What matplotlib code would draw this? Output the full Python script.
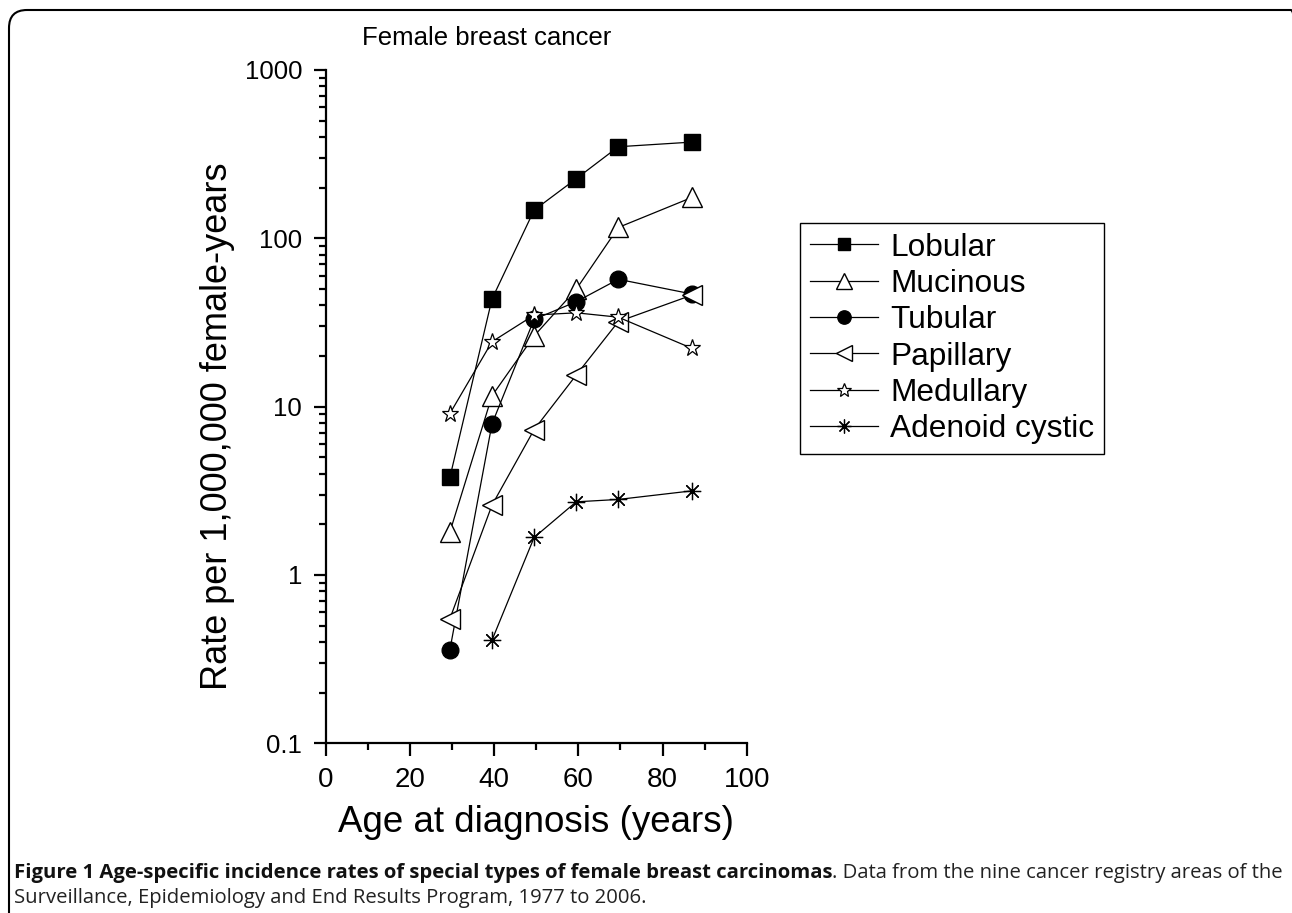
import numpy as np
import matplotlib
matplotlib.use("Agg")
from matplotlib import pyplot as plt
from matplotlib.patches import FancyBboxPatch
from matplotlib.transforms import IdentityTransform
from matplotlib.ticker import FixedLocator, FuncFormatter, LogLocator, NullFormatter

plt.rcParams['font.family'] = ['Liberation Sans', 'DejaVu Sans']

# age at diagnosis (group midpoints)
ages = [29.5, 39.5, 49.5, 59.5, 69.5, 87]
ages_adenoid = [39.5, 49.5, 59.5, 69.5, 87]

lobular = [3.8, 43.6, 147, 226, 350, 373]
mucinous = [1.8, 11.6, 26.3, 49.8, 116, 175]
tubular = [0.36, 7.9, 33.0, 42.0, 57.1, 46.7]
papillary = [0.55, 2.6, 7.3, 15.4, 32.0, 46.0]
medullary = [9.1, 24.3, 35.0, 36.1, 34.0, 22.2]
adenoid = [0.41, 1.67, 2.72, 2.81, 3.16]

W, H = 1292, 913
fig = plt.figure(figsize=(W / 100, H / 100), dpi=100)
ax = fig.add_axes([325.7 / W, 1 - 743.3 / H, (746.7 - 325.7) / W, (743.3 - 70) / H])

lw = 0.9
ax.plot(ages, lobular, '-', color='black', lw=lw, marker='s', ms=11.5,
        mfc='black', mec='black', label='Lobular', zorder=3)
ax.plot(ages, mucinous, '-', color='black', lw=lw, marker='^', ms=14,
        mfc='white', mec='black', mew=1.0, label='Mucinous', zorder=3)
ax.plot(ages, tubular, '-', color='black', lw=lw, marker='o', ms=12,
        mfc='black', mec='black', label='Tubular', zorder=3)
ax.plot(ages, papillary, '-', color='black', lw=lw, marker='<', ms=14,
        mfc='white', mec='black', mew=1.0, label='Papillary', zorder=3)
ax.plot(ages, medullary, '-', color='black', lw=lw, marker='*', ms=12.5,
        mfc='white', mec='black', mew=0.9, label='Medullary', zorder=3)
ax.plot(ages_adenoid, adenoid, '-', color='black', lw=lw, marker=(8, 2, 0), ms=12.5,
        mfc='black', mec='black', mew=0.9, label='Adenoid cystic', zorder=3)

ax.set_yscale('log')
ax.set_ylim(0.1, 1000)
ax.set_xlim(0, 100)

for s in ['top', 'right']:
    ax.spines[s].set_visible(False)
for s in ['left', 'bottom']:
    ax.spines[s].set_linewidth(1.6)

ax.xaxis.set_major_locator(FixedLocator([0, 20, 40, 60, 80, 100]))
ax.xaxis.set_minor_locator(FixedLocator([10, 30, 50, 70, 90]))
ax.yaxis.set_major_locator(LogLocator(base=10, numticks=10))
ax.yaxis.set_minor_locator(LogLocator(base=10, subs=np.arange(2, 10), numticks=10))
ax.yaxis.set_major_formatter(FuncFormatter(lambda v, p: '%g' % v))
ax.yaxis.set_minor_formatter(NullFormatter())

ax.tick_params(which='major', direction='out', length=9, width=1.6, pad=8)
ax.tick_params(which='minor', direction='out', length=5, width=1.6)
ax.tick_params(axis='x', which='major', labelsize=20)
ax.tick_params(axis='y', which='major', labelsize=18.5)

ax.set_xlabel('Age at diagnosis (years)', fontsize=26.5)
ax.set_ylabel('Rate per 1,000,000 female-years', fontsize=26)
ax.xaxis.set_label_coords(0.5, (743.3 - 822) / (743.3 - 70), transform=ax.transAxes)
ax.yaxis.set_label_coords((218 - 325.7) / (746.7 - 325.7), (743.3 - 426) / (743.3 - 70),
                          transform=ax.transAxes)
ax.xaxis.label.set_va('center')
ax.yaxis.label.set_va('center')

fig.text(487 / W, 1 - 38 / H, 'Female breast cancer', fontsize=18.5,
         ha='center', va='center')

leg = fig.legend(loc='upper left', bbox_to_anchor=(800 / W, 1 - 223 / H),
                 bbox_transform=fig.transFigure, borderaxespad=0,
                 fontsize=22.8, handlelength=2.15, handletextpad=0.4,
                 labelspacing=0.2, borderpad=0.3, fancybox=False,
                 markerscale=0.8, edgecolor='black', framealpha=1)
leg.get_frame().set_linewidth(1.0)

# page frame with rounded corners
frame = FancyBboxPatch((9, -60), 1300, H - 10 + 60,
                       boxstyle='round,pad=0,rounding_size=18',
                       transform=IdentityTransform(), fill=False,
                       edgecolor='black', lw=1.5)
fig.patches.append(frame)

# caption
cap_font = ['Open Sans', 'DejaVu Sans']
cap_size = 14.6
bold = fig.text(14 / W, 1 - 873 / H,
                'Figure 1 Age-specific incidence rates of special types of female breast carcinomas',
                fontsize=cap_size, fontweight='bold', family=cap_font, va='center',
                color='#111111')
fig.canvas.draw()
bb = bold.get_window_extent()
fig.text(bb.x1 / W, 1 - 873 / H,
         '. Data from the nine cancer registry areas of the',
         fontsize=cap_size, family=cap_font, va='center', color='#222222')
fig.text(14 / W, 1 - 898 / H,
         'Surveillance, Epidemiology and End Results Program, 1977 to 2006.',
         fontsize=cap_size, family=cap_font, va='center', color='#222222')

fig.savefig('out.png', dpi=100)
